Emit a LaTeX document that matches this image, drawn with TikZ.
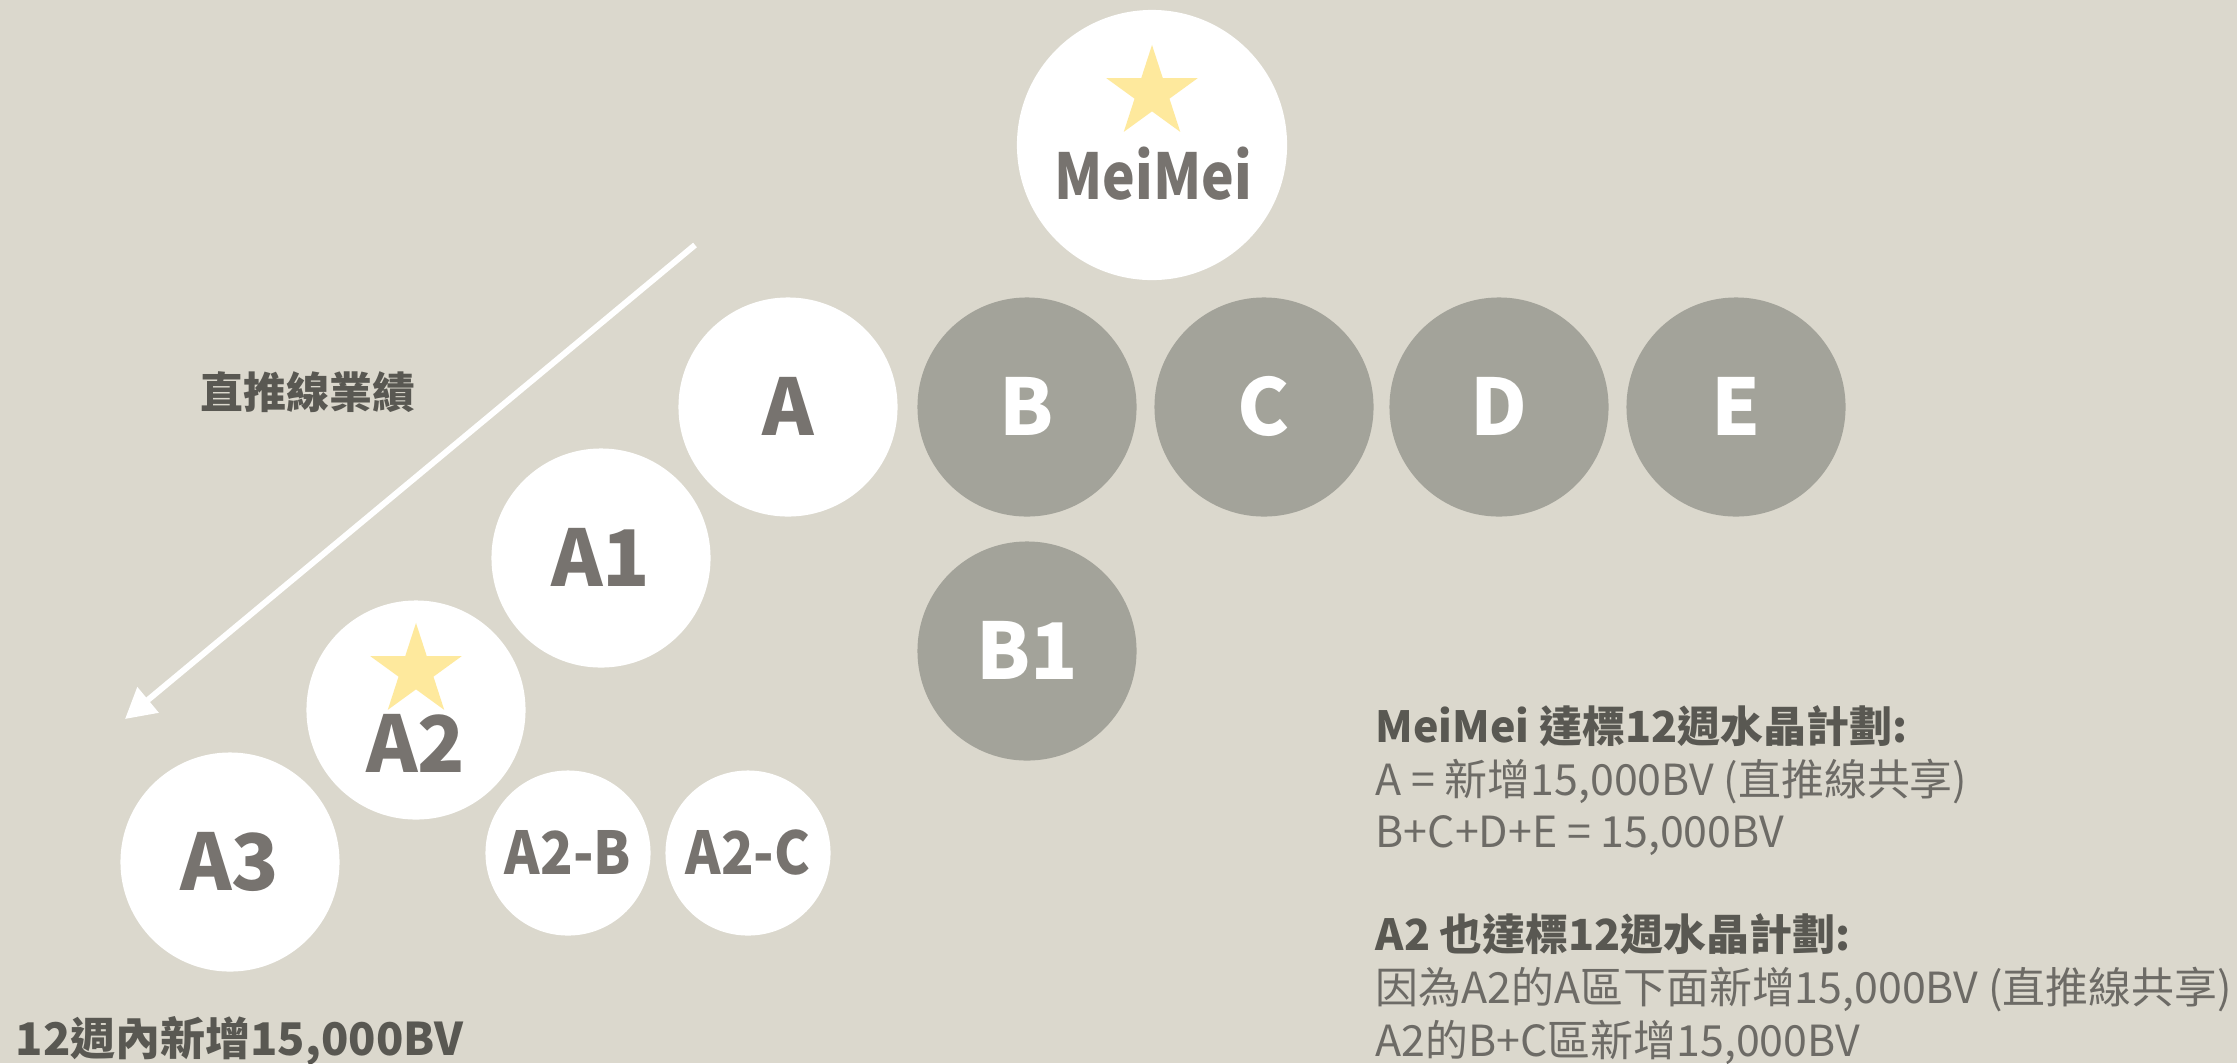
\documentclass[tikz,border=0pt]{standalone}
\usepackage{fontspec}
\setmainfont{Noto Sans CJK TC}
\usetikzlibrary{shapes.geometric,arrows.meta}
\definecolor{bg}{HTML}{DBD8CD}
\definecolor{graycirc}{HTML}{A3A39A}
\definecolor{labgray}{HTML}{77736F}
\definecolor{darktext}{HTML}{595852}
\definecolor{bodytext}{HTML}{6D6B66}
\definecolor{staryellow}{HTML}{FEE99D}
\begin{document}
\begin{tikzpicture}[x=0.01cm,y=-0.01cm,
 wcirc/.style={circle, fill=white, inner sep=0pt, minimum size=2.19cm, text=labgray,
   font=\bfseries\fontsize{22.2}{24}\selectfont, text height=16.2pt, text depth=0pt},
 gcirc/.style={wcirc, fill=graycirc, text=white},
 scirc/.style={wcirc, minimum size=1.65cm, font=\bfseries\fontsize{16.8}{18}\selectfont, text height=12.2pt},
 starshape/.style={star, star points=5, star point ratio=2.618, fill=staryellow, inner sep=0pt, minimum size=0.96cm},
 circlabel/.style={anchor=base, inner sep=0pt, text=labgray},
 bodyline/.style={anchor=base west, inner sep=0pt, text=bodytext, font=\fontsize{12.2}{14}\selectfont},
 headline/.style={bodyline, text=darktext, font=\bfseries\fontsize{12.2}{14}\selectfont},
 boldlabel/.style={inner sep=0pt, text=darktext},
]
\fill[bg] (0,0) rectangle (2237,1063);
\useasboundingbox (0,0) rectangle (2237,1063);

% top
\node[wcirc, minimum size=2.7cm] (meimei) at (1152,145) {};
\node[starshape] (star1) at (1152,93) {};
\node[circlabel, font=\bfseries\fontsize{18}{20}\selectfont] (meimeilabel) at (1153,199) {\scalebox{0.87}[1]{MeiMei}};

% row
\node[wcirc] (A) at (788,407) {A};
\node[gcirc] (B) at (1027,407) {B};
\node[gcirc] (C) at (1264,407) {C};
\node[gcirc] (D) at (1499,407) {D};
\node[gcirc] (E) at (1736,407) {E};
\node[gcirc] (B1) at (1027,651) {B1};

% direct line
\node[wcirc] (A1) at (601,558) {A1};
\node[wcirc] (A2) at (416,710) {};
\node[starshape] (star2) at (416,671) {};
\node[circlabel, font=\bfseries\fontsize{22.2}{24}\selectfont] (A2label) at (416,772) {A2};
\node[wcirc] (A3) at (230,862) {A3};
\node[scirc] (A2B) at (568,853) {\scalebox{0.91}[1]{A2-B}};
\node[scirc] (A2C) at (748,853) {\scalebox{0.91}[1]{A2-C}};

% arrow
\coordinate (arrowstart) at (695,245);
\coordinate (arrowend) at (125,719);
\draw[white, line width=1.7pt, -{Triangle[length=0.3cm,width=0.32cm]}] (arrowstart) -- (arrowend);

\node[boldlabel, font=\bfseries\fontsize{12.2}{14}\selectfont] (directlabel) at (308,392) {直推線業績};
\node[boldlabel, anchor=base west, font=\bfseries\fontsize{12.8}{14}\selectfont] (goal) at (15,1055) {12週內新增15,000BV};

% right block
\node[headline] (h1) at (1375,742) {MeiMei 達標12週水晶計劃:};
\node[bodyline] (l1) at (1375,795) {A = 新增15,000BV (直推線共享)};
\node[bodyline] (l2) at (1375,847) {B+C+D+E = 15,000BV};
\node[headline] (h2) at (1375,950) {A2 也達標12週水晶計劃:};
\node[bodyline] (l3) at (1375,1003) {因為A2的A區下面新增15,000BV (直推線共享)};
\node[bodyline] (l4) at (1375,1056) {A2的B+C區新增15,000BV};
\end{tikzpicture}
\end{document}
